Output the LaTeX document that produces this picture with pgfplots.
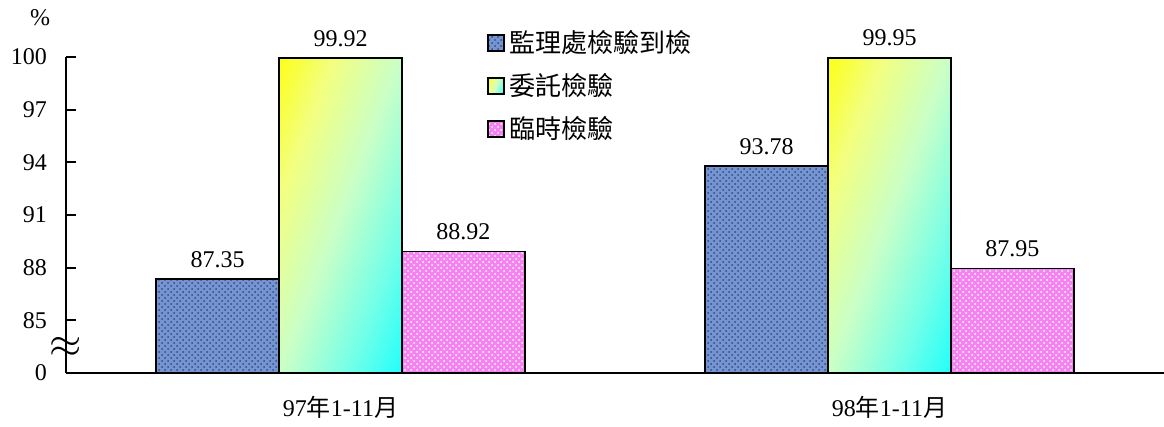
\documentclass[border=0pt]{standalone}
\usepackage{fontspec}
\setmainfont{Liberation Serif}
\newfontfamily\cjk{Noto Sans CJK TC}
\usepackage{pgfplots}
\pgfplotsset{compat=1.18}
\usetikzlibrary{patterns}
\definecolor{blueA}{RGB}{118,148,206}
\definecolor{blueB}{RGB}{45,75,145}
\definecolor{pinkA}{RGB}{245,130,240}
\pgfdeclareverticalshading{yc}{100bp}{
  rgb(0bp)=(0,1,1); rgb(14bp)=(0.05,1,1); rgb(32bp)=(0.45,1,0.91);
  rgb(50bp)=(0.79,1,0.78); rgb(68bp)=(0.95,1,0.5); rgb(86bp)=(1,1,0); rgb(100bp)=(1,1,0)}

\begin{document}
\begin{tikzpicture}
\begin{axis}[
  scale only axis, width=549pt, height=158pt,
  xmin=-0.5, xmax=1.5, ymin=82, ymax=100,
  clip=false,
  axis x line*=bottom, axis y line*=left,
  axis line style={line width=1pt,-},
  ybar=0pt, bar width=0.224,
  xtick={0,1},
  xticklabels={{97{\cjk 年}1-11{\cjk 月}},{98{\cjk 年}1-11{\cjk 月}}},
  major x tick style={draw=none},
  ytick={82,85,88,91,94,97,100},
  yticklabels={0,85,88,91,94,97,100},
  major tick length=5pt,
  tick style={line width=1pt, black},
  tick label style={font=\fontsize{12}{14}\selectfont},
  /pgf/number format/assume math mode=true,
  xticklabel style={yshift=-3pt},
  yticklabel style={xshift=-6pt},
  nodes near coords,
  nodes near coords style={font=\fontsize{12}{14}\selectfont, black, yshift=2pt,
    /pgf/number format/.cd, fixed, fixed zerofill, precision=2},
  legend cell align=left,
  legend style={draw=none, fill=none, at={(rel axis cs:0.378,1.11)}, anchor=north west,
    font=\fontsize{13}{15}\selectfont, row sep=5pt,
    /tikz/every even column/.append style={column sep=0pt}},
  legend image code/.code={\draw[#1, line width=0.9pt] (0pt,-4pt) rectangle (8pt,4pt);},
  shadebar/.style={draw=black, line width=0.9pt, shade, shading=yc,
    shading angle=69, bar shift=0},
]
\addplot[draw=black, line width=0.9pt, fill=blueA, bar shift=-0.224,
  postaction={pattern=crosshatch dots, pattern color=blueB}]
  coordinates {(0,87.35) (1,93.78)};
\addlegendentry{\cjk 監理處檢驗到檢}
\addplot[shadebar] coordinates {(0,99.92)};
\addlegendentry{\cjk 委託檢驗}
\addplot[draw=black, line width=0.9pt, fill=pinkA, bar shift=0.224,
  postaction={pattern=crosshatch dots, pattern color=white}]
  coordinates {(0,88.92) (1,87.95)};
\addlegendentry{\cjk 臨時檢驗}
\addplot[shadebar, forget plot] coordinates {(1,99.95)};
\node[font=\fontsize{20}{20}\selectfont] at (axis cs:-0.5,83.45) {$\approx$};
\node[font=\fontsize{12}{14}\selectfont] at (rel axis cs:0,1) [xshift=-13pt, yshift=19.5pt] {\%};
\end{axis}
\pgfresetboundingbox
\path[use as bounding box] ([shift={(-33pt,-27pt)}]current axis.south west) rectangle ([shift={(0pt,28.5pt)}]current axis.north east);
\end{tikzpicture}
\end{document}
